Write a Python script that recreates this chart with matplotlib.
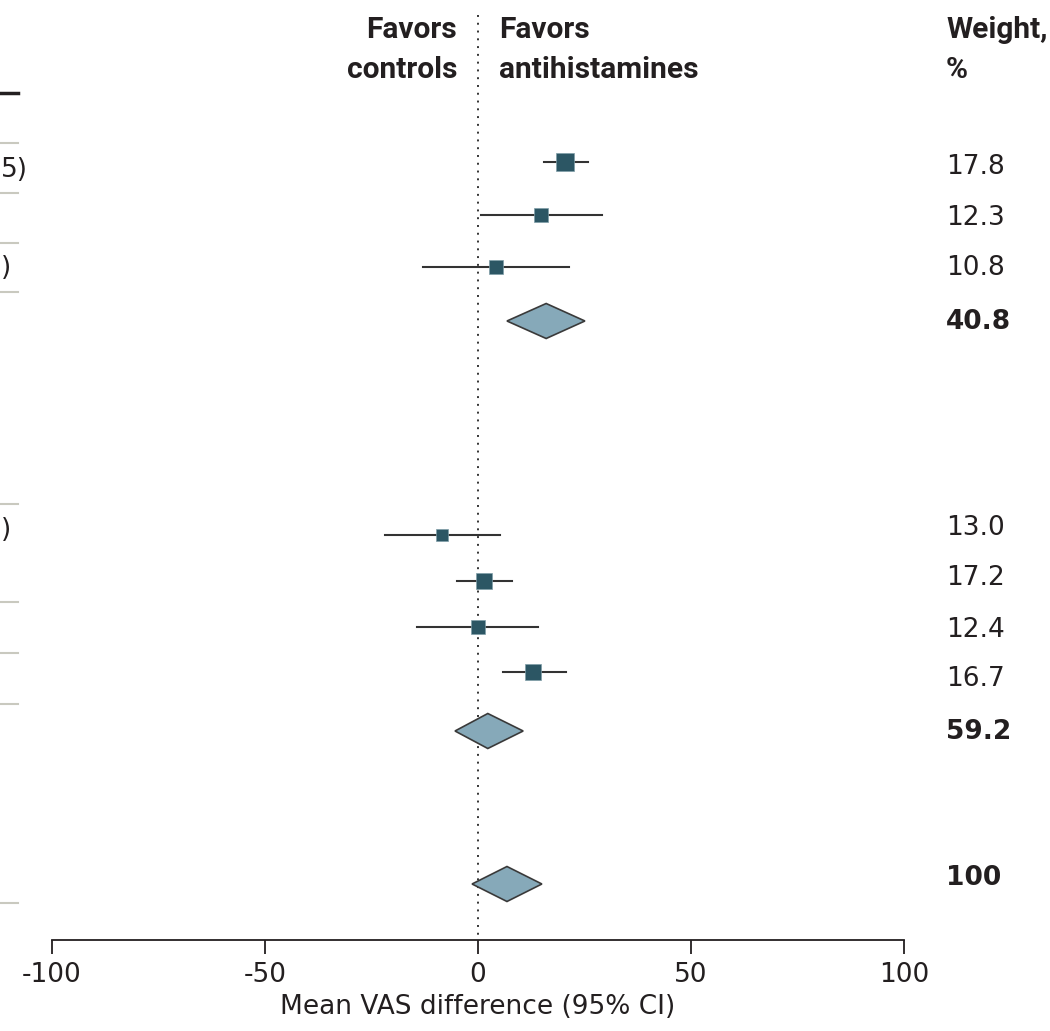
import matplotlib
matplotlib.use("Agg")
import matplotlib.pyplot as plt
from matplotlib.patches import Polygon

plt.rcParams['font.family'] = ['DejaVu Sans']

# study level estimates (mean VAS difference, 95% CI)
est = [20.4, 14.8, 4.2, -8.5, 1.4, 0.0, 12.9]
lo = [15.5, 0.7, -12.9, -21.8, -4.9, -14.3, 5.9]
hi = [25.8, 29.1, 21.4, 5.2, 8.0, 14.1, 20.7]
weights = ["17.8", "12.3", "10.8", "13.0", "17.2", "12.4", "16.7"]
sq_size = [13, 10, 10, 9, 11, 10, 12]

# pooled estimates (subgroup 1, subgroup 2, overall)
pool_est = [16.0, 2.3, 6.8]
pool_lo = [6.8, -5.4, -1.4]
pool_hi = [25.1, 10.6, 15.0]
pool_w = ["40.8", "59.2", "100"]

# clipped CI text from the table on the left
left_txt = ["5)", ")", ")"]

# layout (row positions in pixel rows from the top)
row_y = [162, 215, 267, 535, 581, 627, 672]
pool_y = [321, 731, 884]
w_txt_y = [167, 218, 268, 528, 578, 630, 679]
pw_txt_y = [322, 732, 878]
left_txt_y = [170, 268, 530]
gray_rules = [143, 193, 243, 292, 504, 602, 653, 704, 903]

W, H = 1050, 1031
fig = plt.figure(figsize=(10.5, 10.31), dpi=100)
ax = fig.add_axes([52 / W, (H - 940) / H, 852 / W, 940 / H])
ax.set_xlim(-100, 100)
ax.set_ylim(940, 0)

sq_col = '#2c5664'
dia_col = '#86a9b9'
ln_col = '#333333'
txt_col = '#231f20'

ax.plot([0, 0], [15, 940], color='#333333', lw=1.4, ls=(0, (1, 3)))

for e, l, h, y, s in zip(est, lo, hi, row_y, sq_size):
    ax.plot([l, h], [y, y], color=ln_col, lw=1.5, zorder=2)
    ax.plot(e, y, marker='s', ms=s, color=sq_col, mec='#7f9ea8', mew=0.5, zorder=3)

for e, l, h, y in zip(pool_est, pool_lo, pool_hi, pool_y):
    dh = 17.5
    poly = Polygon([[l, y], [e, y - dh], [h, y], [e, y + dh]], closed=True,
                   fc=dia_col, ec='#3a3a3a', lw=1.2, zorder=3)
    ax.add_patch(poly)

ax.spines['top'].set_visible(False)
ax.spines['right'].set_visible(False)
ax.spines['left'].set_visible(False)
ax.spines['bottom'].set_color('#231f20')
ax.spines['bottom'].set_linewidth(1.3)
ax.set_yticks([])
ax.set_xticks([-100, -50, 0, 50, 100])
ax.set_xticklabels(['-100', '-50', '0', '50', '100'])
ax.tick_params(axis='x', length=10, width=1.3, colors=txt_col, labelsize=19, pad=6)
ax.set_xlabel('Mean VAS difference (95% CI)', fontsize=19, color=txt_col, labelpad=4)

# header text
hdr = dict(va='center', fontsize=21.5, fontweight='semibold', color=txt_col,
           linespacing=1.55, family=['Roboto', 'DejaVu Sans'])
fig.text(457 / W, 1 - 50 / H, 'Favors\ncontrols', ha='right', **hdr)
fig.text(499 / W, 1 - 50 / H, 'Favors\nantihistamines', ha='left', **hdr)
fig.text(946 / W, 1 - 50 / H, 'Weight,\n%', ha='left', **hdr)

# weights column
for w, y in zip(weights, w_txt_y):
    fig.text(946 / W, 1 - y / H, w, ha='left', va='center', fontsize=19, color=txt_col)
for w, y in zip(pool_w, pw_txt_y):
    fig.text(946 / W, 1 - y / H, w, ha='left', va='center', fontsize=19,
             fontweight='semibold', color=txt_col)

# left table remnants
for t, y in zip(left_txt, left_txt_y):
    fig.text(1 / W, 1 - y / H, t, ha='left', va='center', fontsize=19, color=txt_col)
fig.add_artist(plt.Line2D([0, 18 / W], [1 - 93 / H, 1 - 93 / H], color='#231f20', lw=2.5))
for y in gray_rules:
    fig.add_artist(plt.Line2D([0, 18 / W], [1 - y / H, 1 - y / H], color='#c9c9bf', lw=1.5))

fig.savefig('out.png', dpi=100)
